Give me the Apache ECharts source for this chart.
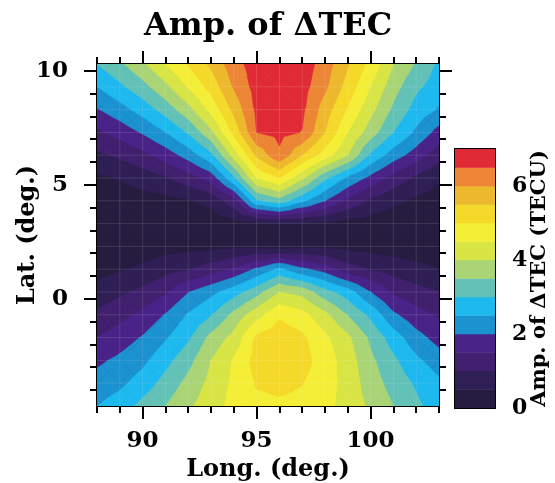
<!DOCTYPE html>
<html>
<head>
<meta charset="utf-8">
<script src="https://cdn.jsdelivr.net/npm/echarts@6/dist/echarts.min.js"></script>
<style>html,body{margin:0;padding:0;background:#fff}#c{width:555px;height:483px}</style>
</head>
<body>
<div id="c"></div>
<script>
// ---- grid coordinates ----
const lons = [88,89,90,91,92,93,94,95,96,97,98,99,100,101,102,103];
const lats = [10.3,9.3,8.3,7.3,6.3,5.3,4.3,3.3,2.3,1.3,0.3,-0.7,-1.7,-2.7,-3.7,-4.7];

// ---- amplitude of dTEC (TECU), one row per latitude, columns follow lons ----
const lat10p3 = [3.0,3.41,3.89,4.5,5.05,5.6,6.3,6.75,7.0,6.8,6.25,5.55,4.85,4.0,3.45,2.9];
const lat9p3  = [2.5,2.89,3.32,3.86,4.54,5.2,6.05,6.7,7.0,6.7,6.1,5.3,4.5,3.7,3.1,2.75];
const lat8p3  = [1.96,2.3,2.71,3.21,3.82,4.66,5.65,6.6,6.9,6.6,5.75,4.95,4.15,3.4,2.8,2.45];
const lat7p3  = [1.4,1.69,2.05,2.49,3.05,3.86,5.15,6.5,6.65,6.48,5.5,4.5,3.75,3.0,2.4,1.8];
const lat6p3  = [0.89,1.09,1.35,1.72,2.2,2.86,4.2,5.6,6.4,5.5,4.75,4.0,2.9,2.25,1.75,1.2];
const lat5p3  = [0.4,0.53,0.71,0.95,1.28,1.7,2.9,4.5,5.0,4.1,3.1,2.4,1.85,1.3,0.9,0.55];
const lat4p3  = [0.2,0.25,0.3,0.35,0.45,0.63,1.3,2.9,3.3,2.6,2.0,1.4,0.9,0.6,0.4,0.3];
const lat3p3  = [0.1,0.1,0.1,0.15,0.15,0.2,0.3,0.4,0.5,0.5,0.4,0.3,0.25,0.2,0.2,0.2];
const lat2p3  = [0.1,0.2,0.25,0.3,0.35,0.35,0.4,0.4,0.3,0.4,0.4,0.35,0.3,0.25,0.2,0.2];
const lat1p3  = [0.3,0.45,0.59,0.81,0.96,1.24,1.57,2.08,2.6,2.1,1.77,1.2,0.96,0.79,0.63,0.5];
const lat0p3  = [0.7,0.89,1.12,1.44,1.98,2.35,2.77,3.3,4.0,3.82,3.18,2.73,2.0,1.42,1.17,1.0];
const latM0p7 = [1.1,1.34,1.62,2.03,2.55,2.96,3.64,4.3,4.92,4.66,4.13,3.48,2.88,2.09,1.68,1.43];
const latM1p7 = [1.5,1.75,2.04,2.44,2.91,3.65,4.16,5.1,5.3,5.1,4.6,4.1,3.4,2.75,2.18,1.8];
const latM2p7 = [1.9,2.11,2.37,2.83,3.33,4.0,4.55,5.2,5.4,5.2,4.75,4.25,3.61,3.1,2.6,2.25];
const latM3p7 = [2.2,2.38,2.73,3.18,3.65,4.15,4.6,5.05,5.15,5.02,4.72,4.3,3.75,3.3,2.93,2.6];
const latM4p7 = [2.5,2.75,3.15,3.5,3.9,4.3,4.65,4.85,4.9,4.85,4.65,4.3,3.9,3.5,3.1,2.75];

// ---- contour levels & colours ----
const levels = [0,0.5,1,1.5,2,2.5,3,3.5,4,4.5,5,5.5,6,6.5,7];
const bandColors = ['#261c40','#2f1f55','#40206f','#4a2388','#1b93d1','#1eb9ee','#63c2b5',
                    '#abd474','#d9e445','#f5ee37','#f5d92a','#edb82d','#ec8535','#e02b36'];

// ---- tick labels ----
const xMajor = [90,95,100];
const xMinor = [88,89,90,91,92,93,94,95,96,97,98,99,100,101,102,103];
const yMajor = [0,5,10];
const yMinor = [-4,-3,-2,-1,0,1,2,3,4,5,6,7,8,9,10];
const cbLabels = [0,2,4,6];
const cbTicks = [1,2,3,4,5,6];

const rows = [lat10p3,lat9p3,lat8p3,lat7p3,lat6p3,lat5p3,lat4p3,lat3p3,
              lat2p3,lat1p3,lat0p3,latM0p7,latM1p7,latM2p7,latM3p7,latM4p7];

const FONT = 'DejaVu Serif';

// keep the part of a polygon (vertices [x, y, value]) where value >= lo
function clipAbove(poly, lo) {
  const out = [];
  const n = poly.length;
  for (let k = 0; k < n; k++) {
    const a = poly[k], b = poly[(k + 1) % n];
    const fa = a[2] - lo, fb = b[2] - lo;
    if (fa >= 0) out.push(a);
    if ((fa >= 0) !== (fb >= 0)) {
      const t = fa / (fa - fb);
      out.push([a[0] + (b[0] - a[0]) * t, a[1] + (b[1] - a[1]) * t, lo]);
    }
  }
  return out;
}

const cells = [];
for (let j = 0; j < lats.length - 1; j++) {
  for (let i = 0; i < lons.length - 1; i++) {
    cells.push([(lons[i] + lons[i + 1]) / 2, (lats[j] + lats[j + 1]) / 2, i, j]);
  }
}

function renderCell(params, api) {
  const i = api.value(2), j = api.value(3);
  const c = [[i, j], [i + 1, j], [i + 1, j + 1], [i, j + 1]].map(function (ij) {
    const p = api.coord([lons[ij[0]], lats[ij[1]]]);
    return [p[0], p[1], rows[ij[1]][ij[0]]];
  });
  const ctr = [0, 1, 2].map(function (d) { return (c[0][d] + c[1][d] + c[2][d] + c[3][d]) / 4; });
  const children = [];
  for (let k = 0; k < 4; k++) {
    const tri = [c[k], c[(k + 1) % 4], ctr];
    for (let b = 1; b < bandColors.length; b++) {
      const poly = clipAbove(tri, levels[b]);
      if (poly.length < 3) break;
      children.push({
        type: 'polygon', z2: b,
        shape: { points: poly.map(function (p) { return [p[0], p[1]]; }) },
        style: { fill: bandColors[b], stroke: bandColors[b], lineWidth: 0.5 }
      });
    }
  }
  return { type: 'group', children: children };
}

// background (lowest band) covering the whole plot
function renderBase(params, api) {
  const p0 = api.coord([lons[0], lats[lats.length - 1]]);
  const p1 = api.coord([lons[lons.length - 1], lats[0]]);
  return { type: 'rect', shape: { x: p0[0], y: p1[1], width: p1[0] - p0[0], height: p0[1] - p1[1] },
           style: { fill: bandColors[0] } };
}
// faint lines of the data mesh
function renderMesh(params, api) {
  const children = [];
  const st = { stroke: 'rgba(255,255,255,0.13)', lineWidth: 1 };
  for (let i = 1; i < lons.length - 1; i++) {
    const a = api.coord([lons[i], lats[0]]), b = api.coord([lons[i], lats[lats.length - 1]]);
    children.push({ type: 'line', shape: { x1: a[0], y1: a[1], x2: b[0], y2: b[1] }, style: st });
  }
  for (let j = 1; j < lats.length - 1; j++) {
    const a = api.coord([lons[0], lats[j]]), b = api.coord([lons[lons.length - 1], lats[j]]);
    children.push({ type: 'line', shape: { x1: a[0], y1: a[1], x2: b[0], y2: b[1] }, style: st });
  }
  return { type: 'group', children: children };
}

const cbData = bandColors.map(function (col, k) { return [0.5, (levels[k] + levels[k + 1]) / 2, k]; });
function renderBand(params, api) {
  const k = api.value(2);
  const p0 = api.coord([0, levels[k]]);
  const p1 = api.coord([1, levels[k + 1]]);
  return { type: 'rect', shape: { x: p0[0], y: p1[1], width: p1[0] - p0[0], height: p0[1] - p1[1] },
           style: { fill: bandColors[k], stroke: bandColors[k], lineWidth: 0.5 } };
}

const black = { color: '#000', width: 2 };
const labelStyle = { fontSize: 23, fontWeight: 'bold', fontFamily: FONT, color: '#000' };
const nameStyle = { fontSize: 24, fontWeight: 'bold', fontFamily: FONT, color: '#000' };

function ax(o) {
  return Object.assign({
    type: 'value', splitLine: { show: false }, nameMoveOverlap: false,
    axisLine: { show: false, onZero: false, lineStyle: black },
    axisTick: { show: false },
    axisLabel: { show: false }
  }, o);
}

const option = {
  animation: false,
  backgroundColor: '#fff',
  title: {
    text: 'Amp. of ΔTEC', left: 139, top: 6,
    textStyle: { fontSize: 32, fontWeight: 'bold', fontFamily: FONT, color: '#000' }
  },
  grid: [
    { left: 97, top: 64, width: 342, height: 342, containLabel: false, outerBoundsMode: 'none' },
    { left: 455, top: 149, width: 40, height: 259, containLabel: false, outerBoundsMode: 'none' }
  ],
  xAxis: [
    ax({ gridIndex: 0, min: 88, max: 103, position: 'bottom',
         axisLine: { show: true, onZero: false, lineStyle: black },
         axisTick: { show: true, customValues: xMajor, length: 13, lineStyle: black },
         axisLabel: Object.assign({ show: true, customValues: xMajor, margin: 24 }, labelStyle),
         name: 'Long. (deg.)', nameLocation: 'middle', nameGap: 52, nameTextStyle: nameStyle }),
    ax({ gridIndex: 0, min: 88, max: 103, position: 'bottom',
         axisTick: { show: true, customValues: xMinor, length: 7, lineStyle: black } }),
    ax({ gridIndex: 0, min: 88, max: 103, position: 'top',
         axisLine: { show: true, onZero: false, lineStyle: black },
         axisTick: { show: true, customValues: xMajor, length: 13, lineStyle: black } }),
    ax({ gridIndex: 0, min: 88, max: 103, position: 'top',
         axisTick: { show: true, customValues: xMinor, length: 7, lineStyle: black } }),
    ax({ gridIndex: 1, min: 0, max: 1, position: 'bottom',
         axisLine: { show: true, onZero: false, lineStyle: black } }),
    ax({ gridIndex: 1, min: 0, max: 1, position: 'top',
         axisLine: { show: true, onZero: false, lineStyle: black } })
  ],
  yAxis: [
    ax({ gridIndex: 0, min: -4.7, max: 10.3, position: 'left',
         axisLine: { show: true, onZero: false, lineStyle: black },
         axisTick: { show: true, customValues: yMajor, length: 13, lineStyle: black },
         axisLabel: Object.assign({ show: true, customValues: yMajor, margin: 29 }, labelStyle),
         name: 'Lat. (deg.)', nameLocation: 'middle', nameGap: 57, nameRotate: 90, nameTextStyle: nameStyle }),
    ax({ gridIndex: 0, min: -4.7, max: 10.3, position: 'left',
         axisTick: { show: true, customValues: yMinor, length: 7, lineStyle: black } }),
    ax({ gridIndex: 0, min: -4.7, max: 10.3, position: 'right',
         axisLine: { show: true, onZero: false, lineStyle: black },
         axisTick: { show: true, customValues: yMajor, length: 13, lineStyle: black } }),
    ax({ gridIndex: 0, min: -4.7, max: 10.3, position: 'right',
         axisTick: { show: true, customValues: yMinor, length: 7, lineStyle: black } }),
    ax({ gridIndex: 1, min: 0, max: 7, position: 'right',
         axisLine: { show: true, onZero: false, lineStyle: black },
         axisTick: { show: true, inside: true, customValues: cbTicks, length: 5, lineStyle: black },
         axisLabel: Object.assign({ show: true, customValues: cbLabels, margin: 17 }, labelStyle, { fontSize: 22 }),
         name: 'Amp. of ΔTEC (TECU)', nameLocation: 'middle', nameGap: 34, nameRotate: 90,
         nameTextStyle: { fontSize: 21, fontWeight: 'bold', fontFamily: FONT, color: '#000' } }),
    ax({ gridIndex: 1, min: 0, max: 7, position: 'left',
         axisLine: { show: true, onZero: false, lineStyle: black },
         axisTick: { show: true, inside: true, customValues: cbTicks, length: 5, lineStyle: black } })
  ],
  series: [
    { type: 'custom', xAxisIndex: 0, yAxisIndex: 0, clip: true, silent: true,
      renderItem: renderBase, data: [[95.5, 2.8]], z: 1 },
    { type: 'custom', xAxisIndex: 0, yAxisIndex: 0, clip: true, silent: true,
      renderItem: renderCell, data: cells, z: 2 },
    { type: 'custom', xAxisIndex: 0, yAxisIndex: 0, clip: true, silent: true,
      renderItem: renderMesh, data: [[95.5, 2.8]], z: 3 },
    { type: 'custom', xAxisIndex: 4, yAxisIndex: 4, clip: true, silent: true,
      renderItem: renderBand, data: cbData, z: 1 }
  ]
};

const chart = echarts.init(document.getElementById('c'), null, { renderer: 'canvas' });
chart.setOption(option);
</script>
</body>
</html>
